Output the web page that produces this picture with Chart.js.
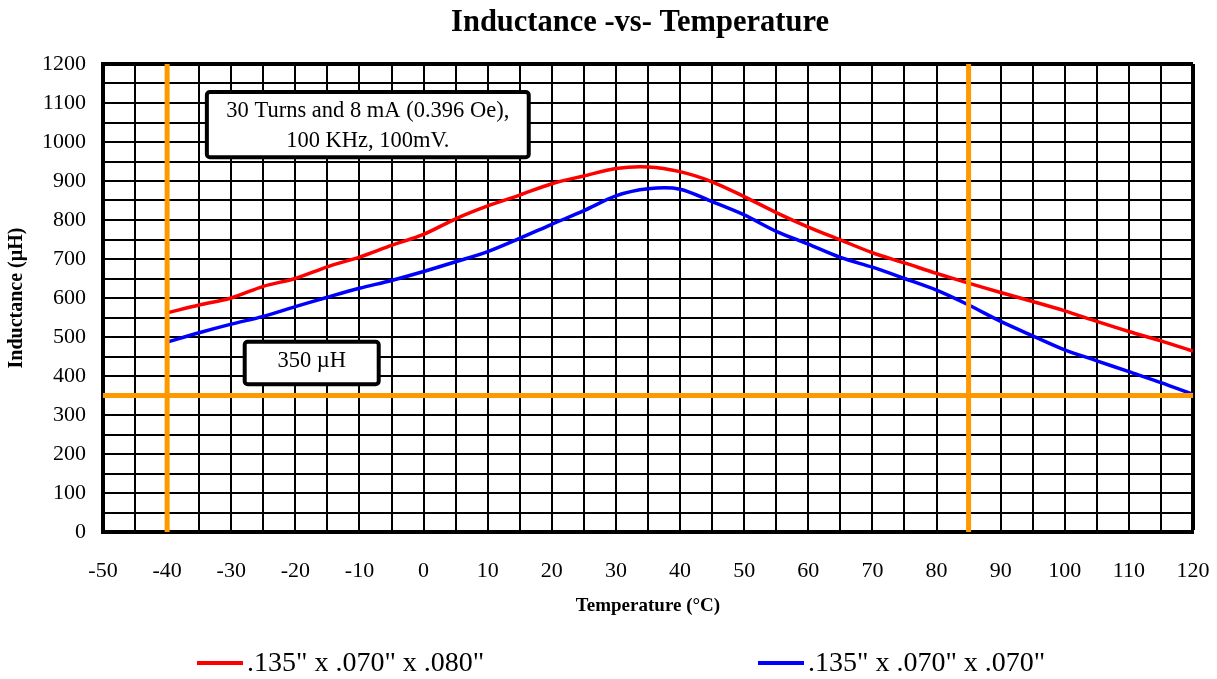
<!DOCTYPE html>
<html lang="en">
<head>
<meta charset="UTF-8">
<title>Inductance -vs- Temperature</title>
<script src="https://cdn.jsdelivr.net/npm/chart.js"></script>
<style>
    html, body { margin: 0; padding: 0; background: #fff; }
    #wrap { width: 1217px; height: 679px; }
</style>
</head>
<body>
<div id="wrap"><canvas id="grafico" width="1217" height="679"></canvas></div>

<script>
// dados
const temperaturas = [-40, -35, -30, -25, -20, -15, -10, -5, 0, 5, 10, 15, 20, 25, 30, 35, 40,
                      45, 50, 55, 60, 65, 70, 75, 80, 85, 90, 95, 100, 105, 110, 115, 120];
const indutancia080 = [562, 582, 600, 630, 650, 680, 705, 735, 763, 803, 836, 864, 893, 913, 932, 936, 924,
                       898, 860, 819, 782, 749, 716, 690, 663, 638, 614, 591, 567, 540, 514, 490, 464];
const indutancia070 = [487, 511, 533, 553, 578, 602, 625, 645, 668, 693, 719, 753, 789, 824, 862, 880, 879,
                       847, 813, 771, 738, 704, 679, 650, 620, 582, 540, 503, 467, 439, 411, 383, 353];
const legendas = ['.135" x .070" x .080"', '.135" x .070" x .070"'];

// limites dos eixos e linhas de referência
const eixoX = [-50, 120];
const eixoY = [0, 1200];
const limitesTemp = [-40, 85];
const limiteInd = 350;

const LARANJA = '#FF9900';
const FONTE = "'Liberation Serif', 'Times New Roman', serif";

function pontos(xs, ys) {
    return xs.map((x, i) => ({ x: x, y: ys[i] }));
}

const datasets = [];
// linhas laranja (primeiro = desenhadas por cima)
limitesTemp.forEach(t => {
    datasets.push({ data: [{ x: t, y: eixoY[0] }, { x: t, y: eixoY[1] }], borderColor: LARANJA, borderWidth: 5, pointRadius: 0 });
});
datasets.push({ data: [{ x: eixoX[0], y: limiteInd }, { x: eixoX[1], y: limiteInd }], borderColor: LARANJA, borderWidth: 5, pointRadius: 0 });
datasets.push({ label: legendas[0], data: pontos(temperaturas, indutancia080), borderColor: '#FF0000', borderWidth: 3.5, pointRadius: 0, tension: 0.3 });
datasets.push({ label: legendas[1], data: pontos(temperaturas, indutancia070), borderColor: '#0000FF', borderWidth: 3.5, pointRadius: 0, tension: 0.3 });

function caixa(ctx, x1, y1, x2, y2, linhas, yTextos) {
    ctx.save();
    ctx.beginPath();
    ctx.roundRect(x1, y1, x2 - x1, y2 - y1, 3);
    ctx.fillStyle = '#fff';
    ctx.fill();
    ctx.lineWidth = 4;
    ctx.strokeStyle = '#000';
    ctx.stroke();
    ctx.fillStyle = '#000';
    ctx.font = '22.5px ' + FONTE;
    ctx.textAlign = 'center';
    ctx.textBaseline = 'middle';
    linhas.forEach((l, i) => ctx.fillText(l, (x1 + x2) / 2, yTextos[i]));
    ctx.restore();
}

const extras = {
    id: 'extras',
    afterDatasetsDraw(chart) {
        const ctx = chart.ctx;
        const sx = chart.scales.x, sy = chart.scales.y;

        // caixas de anotação (em coordenadas do gráfico)
        const b1 = [sx.getPixelForValue(-33.8), sy.getPixelForValue(1128), sx.getPixelForValue(16.4), sy.getPixelForValue(961)];
        caixa(ctx, b1[0], b1[1], b1[2], b1[3], ['30 Turns and 8 mA (0.396 Oe),', '100 KHz, 100mV.'],
              [sy.getPixelForValue(1080), sy.getPixelForValue(1003)]);
        const b2 = [sx.getPixelForValue(-27.9), sy.getPixelForValue(488), sx.getPixelForValue(-7.0), sy.getPixelForValue(379)];
        caixa(ctx, b2[0], b2[1], b2[2], b2[3], ['350 \u00B5H'], [sy.getPixelForValue(438)]);
    },
    afterDraw(chart) {
        const ctx = chart.ctx;
        ctx.save();
        // título
        ctx.fillStyle = '#000';
        ctx.font = 'bold 30.5px ' + FONTE;
        ctx.textAlign = 'center';
        ctx.textBaseline = 'middle';
        ctx.fillText('Inductance -vs- Temperature', 640, 23);

        // legenda
        const itens = [
            { cor: '#FF0000', x: 197, texto: legendas[0] },
            { cor: '#0000FF', x: 758, texto: legendas[1] }
        ];
        ctx.font = '28px ' + FONTE;
        ctx.textAlign = 'left';
        itens.forEach(it => {
            ctx.strokeStyle = it.cor;
            ctx.lineWidth = 4;
            ctx.beginPath();
            ctx.moveTo(it.x, 663);
            ctx.lineTo(it.x + 46, 663);
            ctx.stroke();
            ctx.fillStyle = '#000';
            ctx.fillText(it.texto, it.x + 50, 664);
        });
        ctx.restore();
    }
};

new Chart(document.getElementById('grafico'), {
    type: 'line',
    data: { datasets: datasets },
    plugins: [extras],
    options: {
        responsive: false,
        animation: false,
        devicePixelRatio: 1,
        layout: { padding: { top: 64, right: 24, bottom: 62, left: 0 } },
        plugins: {
            legend: { display: false },
            tooltip: { enabled: false }
        },
        scales: {
            x: {
                type: 'linear',
                min: eixoX[0],
                max: eixoX[1],
                afterFit: s => { s.height = 85; s.paddingLeft = 0; s.paddingRight = 0; },
                ticks: {
                    stepSize: 5,
                    autoSkip: false,
                    maxRotation: 0,
                    padding: 26,
                    color: '#000',
                    font: { family: FONTE, size: 22 },
                    callback: v => (v % 10 === 0 ? String(v) : '')
                },
                grid: {
                    color: '#000',
                    drawTicks: false,
                    lineWidth: c => (c.tick && c.tick.value === eixoX[1] ? 4 : 2)
                },
                border: { color: '#000', width: 4 },
                title: {
                    display: true,
                    text: 'Temperature (\u00B0C)',
                    color: '#000',
                    font: { family: FONTE, size: 19, weight: 'bold' },
                    padding: { top: 0, bottom: 0 }
                }
            },
            y: {
                min: eixoY[0],
                max: eixoY[1],
                afterFit: s => { s.width = 103; },
                ticks: {
                    stepSize: 50,
                    autoSkip: false,
                    padding: 17,
                    color: '#000',
                    font: { family: FONTE, size: 22 },
                    callback: v => (v % 100 === 0 ? String(v) : '')
                },
                grid: {
                    color: '#000',
                    drawTicks: false,
                    lineWidth: c => (c.tick && c.tick.value === eixoY[1] ? 4 : 2)
                },
                border: { color: '#000', width: 4 },
                title: {
                    display: true,
                    text: 'Inductance (\u00B5H)',
                    color: '#000',
                    font: { family: FONTE, size: 20, weight: 'bold' },
                    padding: { top: 5, bottom: 0 }
                }
            }
        }
    }
});
</script>
</body>
</html>
